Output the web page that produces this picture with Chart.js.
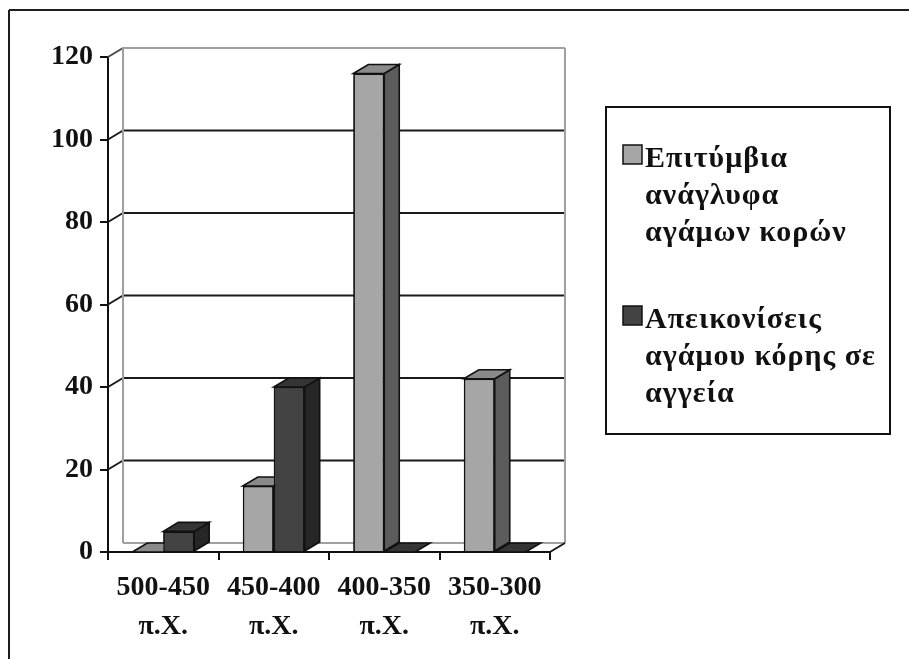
<!DOCTYPE html>
<html>
<head>
<meta charset="utf-8">
<script src="https://cdn.jsdelivr.net/npm/chart.js@4.4.0/dist/chart.umd.min.js"></script>
<style>
  html, body { margin: 0; padding: 0; background: #fff; }
  #wrap { width: 909px; height: 659px; }
</style>
</head>
<body>
<div id="wrap"><canvas id="chart" width="909" height="659"></canvas></div>
<script>
const periods = [['500-450', 'π.Χ.'], ['450-400', 'π.Χ.'], ['400-350', 'π.Χ.'], ['350-300', 'π.Χ.']];
const reliefs = [0, 16, 116, 42];
const vases = [5, 40, 0, 0];
const seriesNames = [
  ['Επιτύμβια', 'ανάγλυφα', 'αγάμων κορών'],
  ['Απεικονίσεις', 'αγάμου κόρης σε', 'αγγεία']
];
const yTicks = [0, 20, 40, 60, 80, 100, 120];

const FONT = "'Liberation Serif', 'Times New Roman', serif";
const DX = 15, DY = 9;
const faces = [
  { front: '#a6a6a6', top: '#8a8a8a', side: '#5c5c5c' },
  { front: '#434343', top: '#353535', side: '#262626' }
];

function line(ctx, x1, y1, x2, y2) {
  ctx.beginPath();
  ctx.moveTo(x1, y1);
  ctx.lineTo(x2, y2);
  ctx.stroke();
}

function poly(ctx, pts) {
  ctx.beginPath();
  ctx.moveTo(pts[0][0], pts[0][1]);
  for (let i = 1; i < pts.length; i++) ctx.lineTo(pts[i][0], pts[i][1]);
  ctx.closePath();
  ctx.fill();
  ctx.stroke();
}

// white page with the frame running off to the right and bottom
const frame = {
  id: 'frame',
  beforeDraw(chart) {
    const ctx = chart.ctx;
    ctx.save();
    ctx.fillStyle = '#fff';
    ctx.fillRect(0, 0, chart.width, chart.height);
    ctx.strokeStyle = '#1e1e1e';
    ctx.lineWidth = 2;
    line(ctx, 9, 10, chart.width, 10);
    line(ctx, 9, 10, 9, chart.height);
    ctx.restore();
  }
};

// back wall with gridlines, pushed back by DX/DY
const backWall = {
  id: 'backWall',
  beforeDatasetsDraw(chart) {
    const { ctx, chartArea: a, scales: { y } } = chart;
    const l = a.left + DX, r = a.right + DX;
    const first = yTicks[0], last = yTicks[yTicks.length - 1];
    ctx.save();
    ctx.lineWidth = 2;
    yTicks.forEach(v => {
      const py = y.getPixelForValue(v);
      const edge = v === first || v === last;
      ctx.strokeStyle = edge ? '#a0a0a0' : '#1a1a1a';
      line(ctx, l, py - DY, r, py - DY);
      if (v !== first) {
        ctx.strokeStyle = edge ? '#4a4a4a' : '#1a1a1a';
        line(ctx, a.left, py, l, py - DY);
      }
    });
    const top = y.getPixelForValue(last) - DY;
    const bot = y.getPixelForValue(first) - DY;
    ctx.strokeStyle = '#a0a0a0';
    line(ctx, l, top, l, bot);
    line(ctx, r, top, r, bot);
    ctx.strokeStyle = '#1a1a1a';
    line(ctx, a.right, a.bottom, r, a.bottom - DY);
    ctx.restore();
  }
};

// columns painted back to front: within each period the left column first,
// each one with its front, side and top faces
const columns3d = {
  id: 'columns3d',
  afterDatasetsDraw(chart) {
    const ctx = chart.ctx;
    const metas = chart.data.datasets.map((_, i) => chart.getDatasetMeta(i));
    ctx.save();
    periods.forEach((_, j) => {
      metas.forEach((meta, i) => {
        const bar = meta.data[j];
        const f = faces[i];
        const { x, y, base, width } = bar.getProps(['x', 'y', 'base', 'width'], true);
        const l = x - width / 2, r = x + width / 2;
        bar.draw(ctx);
        ctx.strokeStyle = '#111';
        ctx.lineWidth = 1.6;
        ctx.lineJoin = 'miter';
        if (base - y > 0.5) {
          ctx.fillStyle = f.side;
          poly(ctx, [[r, y], [r + DX, y - DY], [r + DX, base - DY], [r, base]]);
        }
        ctx.fillStyle = f.top;
        poly(ctx, [[l, y], [l + DX, y - DY], [r + DX, y - DY], [r, y]]);
      });
    });
    ctx.restore();
  }
};

// framed legend on the right
const boxLegend = {
  id: 'boxLegend',
  afterDraw(chart) {
    const ctx = chart.ctx;
    const bx = 606, by = 107, bw = 284, bh = 327;
    ctx.save();
    ctx.strokeStyle = '#111';
    ctx.lineWidth = 2;
    ctx.strokeRect(bx, by, bw, bh);
    ctx.font = 'bold 30px ' + FONT;
    ctx.letterSpacing = '1px';
    ctx.textBaseline = 'alphabetic';
    ctx.textAlign = 'left';
    const step = 37;
    chart.data.datasets.forEach((ds, i) => {
      const y0 = 167 + i * 161;
      ctx.fillStyle = ds.backgroundColor;
      ctx.lineWidth = 1.5;
      ctx.fillRect(623, y0 - 22, 19, 19);
      ctx.strokeRect(623, y0 - 22, 19, 19);
      ctx.fillStyle = '#111';
      seriesNames[i].forEach((t, k) => ctx.fillText(t, 645, y0 + k * step));
    });
    ctx.restore();
  }
};

const tickFont = { family: FONT, size: 28, weight: 'bold' };

new Chart(document.getElementById('chart'), {
  type: 'bar',
  data: {
    labels: periods,
    datasets: [
      {
        label: seriesNames[0].join(' '),
        data: reliefs,
        backgroundColor: faces[0].front,
        borderColor: '#111',
        borderWidth: 1.6
      },
      {
        label: seriesNames[1].join(' '),
        data: vases,
        backgroundColor: faces[1].front,
        borderColor: '#111',
        borderWidth: 1.6
      }
    ]
  },
  options: {
    responsive: false,
    animation: false,
    layout: { padding: { left: 0, top: 57, right: 359, bottom: 0 } },
    datasets: { bar: { categoryPercentage: 0.56, barPercentage: 1.0 } },
    plugins: {
      legend: { display: false },
      tooltip: { enabled: false }
    },
    scales: {
      x: {
        afterFit(scale) { scale.height = 107; },
        grid: { offset: true, drawOnChartArea: false, drawTicks: true, tickLength: 8, color: '#111', lineWidth: 2 },
        border: { display: true, color: '#111', width: 2 },
        ticks: { font: { ...tickFont, lineHeight: 1.4 }, color: '#111', padding: 8, maxRotation: 0, autoSkip: false }
      },
      y: {
        min: 0,
        max: 120,
        afterFit(scale) { scale.width = 108; },
        afterBuildTicks(scale) { scale.ticks = yTicks.map(v => ({ value: v })); },
        grid: { drawOnChartArea: false, drawTicks: true, tickLength: 8, color: '#111', lineWidth: 2 },
        border: { display: true, color: '#111', width: 2 },
        ticks: { font: tickFont, color: '#111', padding: 7 }
      }
    }
  },
  plugins: [frame, backWall, columns3d, boxLegend]
});
</script>
</body>
</html>
